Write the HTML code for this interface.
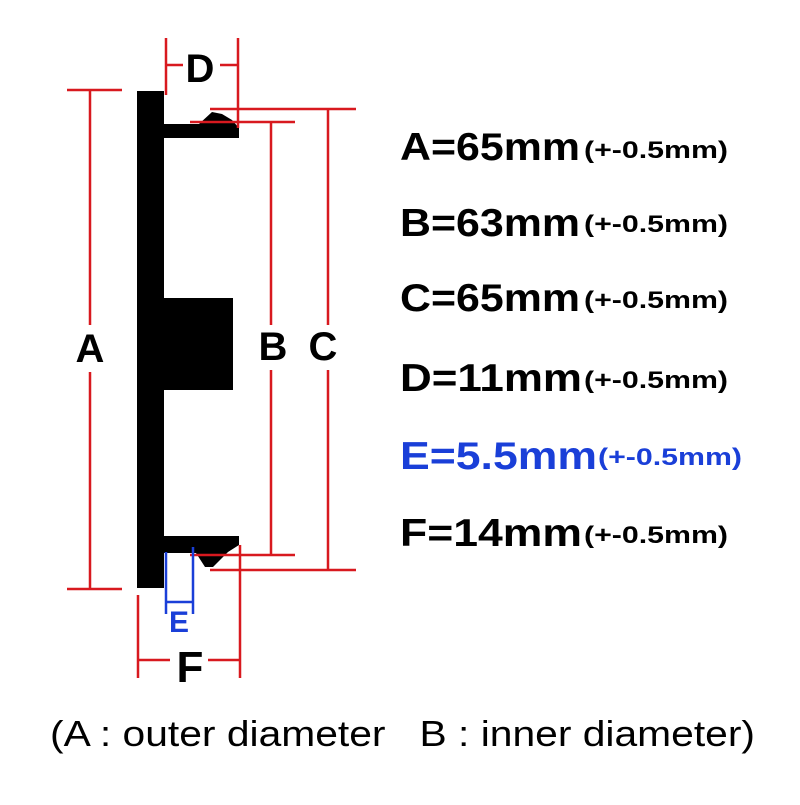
<!DOCTYPE html>
<html><head><meta charset="utf-8"><style>html,body{margin:0;padding:0;background:#fff}</style></head>
<body>
<svg width="800" height="800" viewBox="0 0 800 800" xmlns="http://www.w3.org/2000/svg" font-family="Liberation Sans, sans-serif">
<rect width="800" height="800" fill="#fff"/>
<g fill="#000">
<rect x="137" y="91" width="27" height="497"/>
<path d="M164 124 L199 124 L212 112 L222 114 L232 120 L239 128 L239 138 L164 138 Z"/>
<path d="M164 536 L239 536 L239 545 L228 552 L213 567 L205 567 L196 553 L164 553 Z"/>
<rect x="164" y="298" width="69" height="92"/>
</g>
<g stroke="#d8191f" stroke-width="2.5" fill="none">
<line x1="67" y1="90" x2="122" y2="90"/><line x1="67" y1="589" x2="122" y2="589"/>
<line x1="90" y1="90" x2="90" y2="325"/><line x1="90" y1="372" x2="90" y2="589"/>
<line x1="166" y1="38" x2="166" y2="95"/><line x1="238" y1="38" x2="238" y2="128"/>
<line x1="166" y1="65" x2="183" y2="65"/><line x1="220" y1="65" x2="238" y2="65"/>
<line x1="190" y1="122" x2="295" y2="122"/><line x1="190" y1="555" x2="295" y2="555"/>
<line x1="271" y1="122" x2="271" y2="325"/><line x1="271" y1="370" x2="271" y2="555"/>
<line x1="210" y1="109" x2="356" y2="109"/><line x1="210" y1="570" x2="356" y2="570"/>
<line x1="328" y1="109" x2="328" y2="325"/><line x1="328" y1="370" x2="328" y2="570"/>
<line x1="138" y1="595" x2="138" y2="678"/><line x1="240" y1="545" x2="240" y2="678"/>
<line x1="138" y1="660" x2="170" y2="660"/><line x1="208" y1="660" x2="240" y2="660"/>
</g>
<g stroke="#1a3fd8" stroke-width="2.5">
<line x1="166" y1="552" x2="166" y2="614"/><line x1="193" y1="547" x2="193" y2="614"/>
<line x1="166" y1="602" x2="193" y2="602"/>
</g>
<g font-weight="bold" fill="#000">
<text x="200" y="82" font-size="40" text-anchor="middle">D</text>
<text x="90" y="362" font-size="40" text-anchor="middle">A</text>
<text x="273" y="360" font-size="40" text-anchor="middle">B</text>
<text x="323" y="360" font-size="40" text-anchor="middle">C</text>
<text x="190" y="682" font-size="44" text-anchor="middle">F</text>
<text x="179" y="632" font-size="30" text-anchor="middle" fill="#1a3fd8">E</text>
</g>
<g font-weight="bold" font-size="39">
<text x="400" y="160" textLength="180" lengthAdjust="spacingAndGlyphs">A=65mm</text>
<text x="400" y="236" textLength="180" lengthAdjust="spacingAndGlyphs">B=63mm</text>
<text x="400" y="311" textLength="180" lengthAdjust="spacingAndGlyphs">C=65mm</text>
<text x="400" y="391" textLength="182" lengthAdjust="spacingAndGlyphs">D=11mm</text>
<text x="400" y="469" textLength="197" lengthAdjust="spacingAndGlyphs" fill="#1a3fd8">E=5.5mm</text>
<text x="400" y="546" textLength="182" lengthAdjust="spacingAndGlyphs">F=14mm</text>
</g>
<g font-weight="bold" font-size="24">
<text x="584" y="158" textLength="144" lengthAdjust="spacingAndGlyphs">(+-0.5mm)</text>
<text x="584" y="232" textLength="144" lengthAdjust="spacingAndGlyphs">(+-0.5mm)</text>
<text x="584" y="308" textLength="144" lengthAdjust="spacingAndGlyphs">(+-0.5mm)</text>
<text x="584" y="388" textLength="144" lengthAdjust="spacingAndGlyphs">(+-0.5mm)</text>
<text x="598" y="465" textLength="144" lengthAdjust="spacingAndGlyphs" fill="#1a3fd8">(+-0.5mm)</text>
<text x="584" y="543" textLength="144" lengthAdjust="spacingAndGlyphs">(+-0.5mm)</text>
</g>
<text x="50" y="746" font-size="36" textLength="705" lengthAdjust="spacingAndGlyphs" xml:space="preserve">(A : outer diameter   B : inner diameter)</text>
</svg>
</body></html>
